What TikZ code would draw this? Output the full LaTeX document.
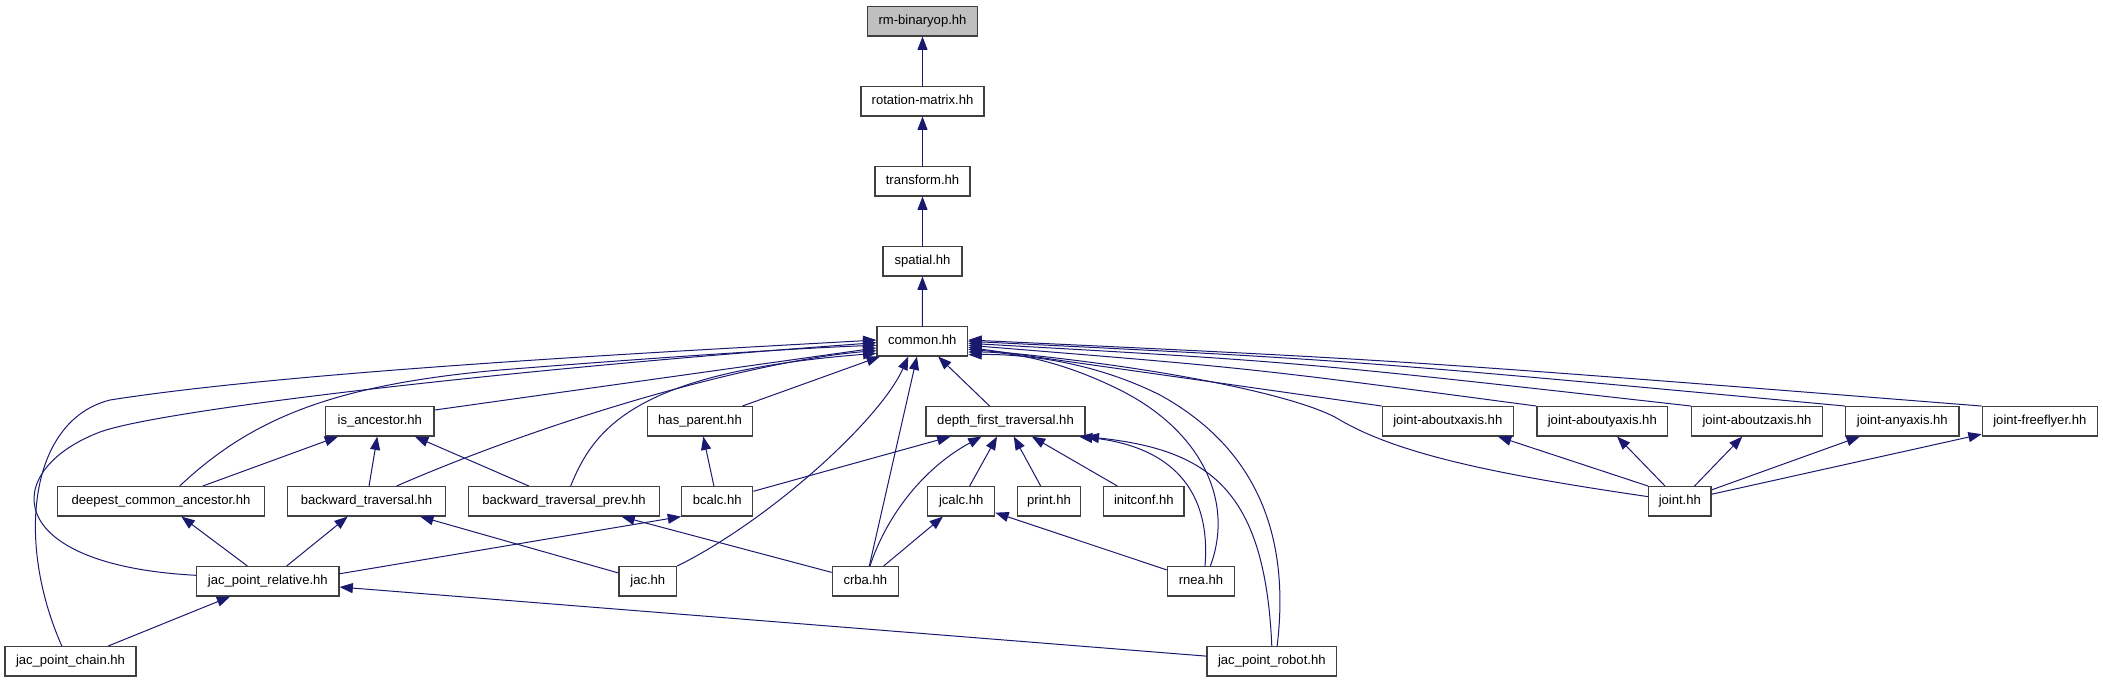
\documentclass[tikz,border=0pt]{standalone}
\usepackage{fontspec}
\setmainfont{Liberation Sans}
\usetikzlibrary{arrows.meta}
\definecolor{edgeblue}{RGB}{25,25,112}
\definecolor{topgray}{RGB}{191,191,191}

\begin{document}
\begin{tikzpicture}[x=0.75pt, y=-0.75pt,
    file/.style={draw=black!75, line width=0.9pt, fill=white,
      minimum height=22pt, inner xsep=2pt, inner ysep=0pt,
      text height=7.2pt, text depth=2.2pt,
      font=\fontsize{9.8}{11}\selectfont},
    incl/.style={draw=edgeblue, line width=0.75pt,
      -{Triangle[length=10pt,width=7.5pt]}}]
  \useasboundingbox (0,0) rectangle (2103,683);

  % header chain
  \node[file, fill=topgray, minimum width=82.2pt] (rmbin) at (922.5,21.3) {rm-binaryop.hh};
  \node[file, minimum width=92.3pt] (rotmat) at (922.5,101.3) {rotation-matrix.hh};
  \node[file, minimum width=71.3pt] (transform) at (922.5,181.3) {transform.hh};
  \node[file, minimum width=59.3pt] (spatial) at (922.5,261.3) {spatial.hh};
  \node[file, minimum width=68pt] (common) at (922.3,341.3) {common.hh};

  % row 6
  \node[file, minimum width=81.2pt] (isanc) at (379.8,421.3) {is\_ancestor.hh};
  \node[file, minimum width=79pt] (hasparent) at (700,421.3) {has\_parent.hh};
  \node[file, minimum width=119.3pt] (dft) at (1005.5,421.3) {depth\_first\_traversal.hh};
  \node[file, minimum width=98.3pt] (jax) at (1447.8,421.3) {joint-aboutxaxis.hh};
  \node[file, minimum width=98pt] (jay) at (1602.3,421.3) {joint-aboutyaxis.hh};
  \node[file, minimum width=98pt] (jaz) at (1757,421.3) {joint-aboutzaxis.hh};
  \node[file, minimum width=85pt] (jany) at (1902.3,421.3) {joint-anyaxis.hh};
  \node[file, minimum width=86.3pt] (jff) at (2039.8,421.3) {joint-freeflyer.hh};

  % row 7
  \node[file, minimum width=155pt] (dca) at (161,501.3) {deepest\_common\_ancestor.hh};
  \node[file, minimum width=118.2pt] (bt) at (366.5,501.3) {backward\_traversal.hh};
  \node[file, minimum width=143pt] (btp) at (564,501.3) {backward\_traversal\_prev.hh};
  \node[file, minimum width=53.3pt] (bcalc) at (717.2,501.3) {bcalc.hh};
  \node[file, minimum width=50.3pt] (jcalc) at (961.2,501.3) {jcalc.hh};
  \node[file, minimum width=47.6pt] (print) at (1049,501.3) {print.hh};
  \node[file, minimum width=60.2pt] (initconf) at (1143.8,501.3) {initconf.hh};
  \node[file, minimum width=46.7pt] (joint) at (1679.8,501.3) {joint.hh};

  % row 8
  \node[file, minimum width=106.7pt] (jpr) at (267.8,581.3) {jac\_point\_relative.hh};
  \node[file, minimum width=43.3pt] (jac) at (647.8,581.3) {jac.hh};
  \node[file, minimum width=49.5pt] (crba) at (865.3,581.3) {crba.hh};
  \node[file, minimum width=50.6pt] (rnea) at (1201,581.3) {rnea.hh};

  % row 9
  \node[file, minimum width=98.3pt] (jpc) at (70.5,661.3) {jac\_point\_chain.hh};
  \node[file, minimum width=97.3pt] (jprobot) at (1271.8,661.3) {jac\_point\_robot.hh};

  % straight includes
  \foreach \a/\b in {rotmat/rmbin, transform/rotmat, spatial/transform, common/spatial,
      hasparent/common, dft/common, dca/isanc, bt/isanc, btp/isanc,
      jpr/dca, jpr/bt, jac/bt, bcalc/hasparent, bcalc/dft, crba/btp,
      crba/jcalc, jcalc/dft, print/dft, initconf/dft, rnea/jcalc,
      joint/jay, joint/jaz, joint/jany, joint/jff, jpc/jpr, jprobot/jpr}{
    \draw[incl] (\a) -- (\b);
  }
  \draw[incl] (jpr.6) -- (bcalc.south west);
  \draw[incl] (joint.north west) -- ([xshift=-12pt]jax.south east);
  \draw[incl] ([xshift=3pt]crba.north) -- ([xshift=-4pt]common.south);
  \draw[incl] ([yshift=-3pt]isanc.north east) -- ([yshift=-5pt]common.west);
  \draw[incl] (jax.north west) -- ([yshift=-4.5pt]common.east);

  % curved includes, left of common.hh
  \draw[incl] ([xshift=-6.5pt]jpc.north) .. controls (15,540) and (30,420) .. (110,400)
    .. controls (300,370) and (700,350) .. ([yshift=1pt]common.west);
  \draw[incl] ([yshift=4.5pt]jpr.west) .. controls (0,565) and (0,470) .. (100,432)
    .. controls (160,410) and (500,370) .. ([yshift=-1pt]common.west);
  \draw[incl] ([xshift=14pt]dca.north) .. controls (250,420) and (330,385) .. (500,370)
    .. controls (650,358) and (800,348) .. ([yshift=-3pt]common.west);
  \draw[incl] ([xshift=22.5pt]bt.north) .. controls (560,415) and (760,360)
    .. ([yshift=-7pt]common.west);
  \draw[incl] ([xshift=5pt]btp.north) .. controls (595,425) and (640,372)
    .. ([yshift=-9pt]common.west);
  \draw[incl] (jac.north east) .. controls (770,520) and (880,420)
    .. ([xshift=-10.5pt]common.south);

  % curved includes, right of common.hh
  \draw[incl] ([xshift=3.5pt]crba.north) .. controls (885,520) and (920,470)
    .. ([xshift=-18pt]dft.south);
  \draw[incl] ([xshift=3pt]rnea.north) .. controls (1212,480) and (1160,445)
    .. ([xshift=-5pt]dft.south east);
  \draw[incl] (jprobot.north) .. controls (1265,490) and (1210,450) .. (dft.south east);
  \draw[incl] ([xshift=7pt]rnea.north) .. controls (1235,500) and (1200,430) .. (1120,390)
    .. controls (1060,360) and (1010,352) .. ([yshift=-8pt]common.east);
  \draw[incl] ([xshift=4pt]jprobot.north) .. controls (1290,540) and (1260,450) .. (1160,395)
    .. controls (1090,360) and (1020,354) .. ([yshift=-10pt]common.east);
  \draw[incl] ([yshift=3.5pt]joint.west) .. controls (1500,475) and (1400,455) .. (1340,420)
    .. controls (1300,395) and (1150,365) .. ([yshift=-6pt]common.east);
  \draw[incl] (jay.north west) .. controls (1250,368) .. ([yshift=-3pt]common.east);
  \draw[incl] (jaz.north west) .. controls (1300,362) .. ([yshift=-1.5pt]common.east);
  \draw[incl] (jany.north west) .. controls (1350,360) .. (common.east);
  \draw[incl] (jff.north west) .. controls (1400,360) .. ([yshift=1pt]common.east);
\end{tikzpicture}
\end{document}
